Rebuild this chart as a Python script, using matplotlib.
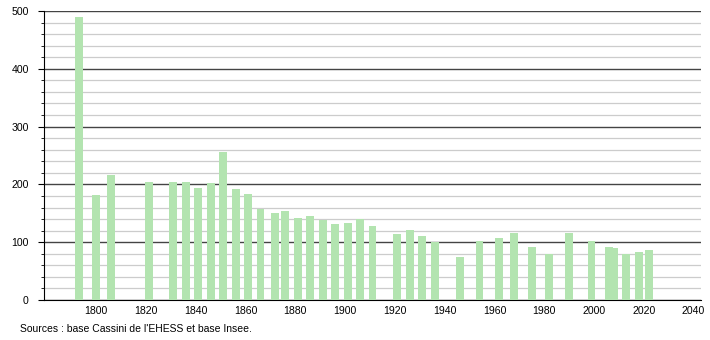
import matplotlib.pyplot as plt
from matplotlib.ticker import MultipleLocator

plt.rcParams['font.family'] = ['Liberation Sans', 'DejaVu Sans']

# census years and population
years = [1793, 1800, 1806, 1821, 1831, 1836, 1841, 1846, 1851, 1856,
         1861, 1866, 1872, 1876, 1881, 1886, 1891, 1896, 1901, 1906,
         1911, 1921, 1926, 1931, 1936, 1946, 1954, 1962, 1968, 1975,
         1982, 1990, 1999, 2006, 2008, 2013, 2018, 2022]
population = [490, 181, 216, 204, 204, 204, 194, 202, 256, 192,
              184, 158, 151, 154, 142, 145, 139, 131, 133, 140,
              128, 115, 121, 111, 100, 74, 102, 107, 116, 92,
              79, 116, 102, 92, 90, 79, 83, 86]
source = "Sources : base Cassini de l'EHESS et base Insee."

fig = plt.figure(figsize=(7.1, 3.4), dpi=100)
ax = fig.add_axes([44 / 710, 40 / 340, 657 / 710, 289 / 340])

ax.bar(years, population, width=3.2, color='#b3e4b0', zorder=3)

ax.set_xlim(1779, 2043)
ax.set_ylim(0, 500)
ax.set_xticks(range(1800, 2041, 20))
ax.yaxis.set_major_locator(MultipleLocator(100))
ax.yaxis.set_minor_locator(MultipleLocator(20))

ax.grid(axis='y', which='minor', color='#cccccc', linewidth=0.9, zorder=0)
ax.grid(axis='y', which='major', color='#444444', linewidth=1.0, zorder=1)

for s in ['top', 'right']:
    ax.spines[s].set_visible(False)
ax.spines['left'].set_color('black')
ax.spines['bottom'].set_color('black')

ax.tick_params(axis='x', length=0, pad=4, labelsize=7.6)
ax.tick_params(axis='y', which='major', length=4, pad=7, labelsize=7.6)
ax.tick_params(axis='y', which='minor', length=2.5)

fig.text(20 / 710, 1 - 329 / 340, source, fontsize=7.5, va='center', ha='left')

fig.savefig('out.png', dpi=100)
